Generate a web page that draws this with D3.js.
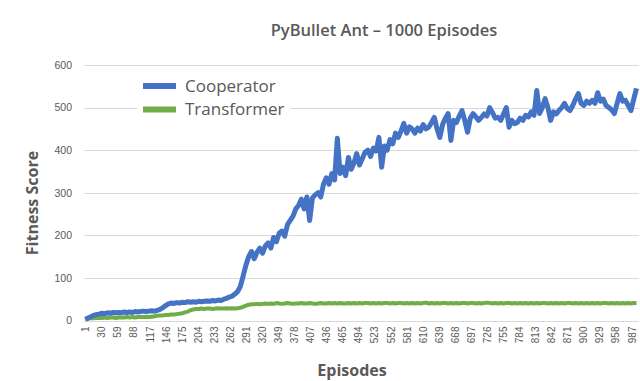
<html lang='en'>
<head>
<meta charset="utf-8">
<title>PyBullet Ant</title>
<script src="https://d3js.org/d3.v7.min.js"></script>
<style>
  body { margin: 0; background: #fff; }
  svg { font-family: "Open Sans", "Noto Sans", sans-serif; }
  .grid line { stroke: #d9d9d9; stroke-width: 1; shape-rendering: crispEdges; }
  .axis text { fill: #595959; font-size: 10.5px; }
  .axis--x text { font-size: 10px; }
  .line { fill: none; stroke-linejoin: round; }
</style>
</head>
<body>
<script>
// values sampled every 5 episodes (1, 6, 11, ... 996)
var cooperator = [
  3, 6, 9, 12, 14, 15, 17, 16, 18, 17,
  19, 18, 19, 18, 20, 19, 20, 19, 21, 20,
  21, 22, 21, 22, 23, 22, 24, 26, 30, 35,
  39, 41, 40, 42, 41, 43, 42, 44, 43, 44,
  43, 45, 44, 45, 46, 45, 47, 46, 48, 47,
  50, 52, 55, 57, 62, 68, 80, 105, 130, 150,
  162, 145, 160, 170, 158, 175, 182, 170, 195, 185,
  205, 210, 198, 225, 235, 245, 262, 270, 285, 262,
  290, 235, 288, 295, 300, 290, 320, 335, 320, 345,
  330, 428, 345, 360, 340, 383, 355, 370, 392, 365,
  380, 395, 400, 385, 405, 398, 430, 360, 410, 400,
  425, 415, 440, 430, 445, 463, 440, 455, 450, 440,
  452, 445, 460, 450, 454, 465, 477, 450, 430, 460,
  475, 486, 423, 470, 465, 480, 493, 470, 442, 475,
  486, 478, 470, 477, 485, 480, 500, 488, 475, 477,
  470, 485, 500, 454, 470, 462, 465, 475, 470, 482,
  478, 490, 482, 540, 486, 500, 521, 500, 470, 490,
  485, 493, 500, 510, 498, 493, 505, 520, 533, 510,
  505, 515, 510, 517, 510, 535, 515, 520, 505, 500,
  495, 486, 510, 533, 515, 517, 505, 493, 520, 545
];

var transformer = [
  2, 4, 5, 5, 6, 6, 6, 7, 6, 7,
  7, 6, 7, 7, 7, 8, 7, 8, 7, 8,
  8, 8, 9, 8, 9, 10, 11, 12, 12, 13,
  13, 14, 14, 15, 16, 17, 19, 21, 24, 26,
  27, 27, 28, 27, 28, 28, 27, 28, 29, 28,
  28, 29, 28, 29, 28, 29, 30, 32, 35, 37,
  38, 38, 39, 38, 39, 40, 39, 40, 39, 41,
  40, 39, 40, 41, 40, 39, 40, 40, 41, 40,
  40, 41, 40, 39, 40, 41, 40, 40, 41, 40,
  41, 40, 41, 40, 40, 41, 40, 41, 40, 41,
  40, 41, 41, 40, 41, 40, 41, 40, 41, 41,
  40, 41, 40, 41, 41, 40, 41, 40, 41, 40,
  41, 40, 41, 42, 40, 41, 40, 41, 40, 41,
  41, 40, 41, 40, 41, 40, 41, 41, 40, 41,
  41, 40, 41, 40, 41, 42, 41, 40, 41, 40,
  41, 40, 41, 41, 40, 41, 40, 41, 40, 41,
  40, 41, 40, 41, 40, 41, 41, 40, 41, 40,
  41, 40, 41, 40, 41, 41, 40, 41, 40, 41,
  40, 41, 40, 41, 40, 41, 40, 41, 41, 40,
  41, 40, 41, 40, 41, 40, 41, 40, 41, 41
];

var tickLabels = [1, 30, 59, 88, 117, 146, 175, 204, 233, 262, 291, 320, 349, 378,
  407, 436, 465, 494, 523, 552, 581, 610, 639, 668, 697, 726, 755, 784, 813, 842,
  871, 900, 929, 958, 987];

var yTicks = [0, 100, 200, 300, 400, 500, 600];

var width = 640, height = 381;
var plot = {left: 85, right: 639, top: 65, bottom: 320.5};

var svg = d3.select("body").append("svg")
    .attr("width", width)
    .attr("height", height);

var x = d3.scaleLinear()
    .domain([0.5, 1000.5])
    .range([plot.left, plot.right]);

var y = d3.scaleLinear()
    .domain([0, 600])
    .range([plot.bottom, plot.top]);

// gridlines
svg.append("g")
    .attr("class", "grid")
    .selectAll("line")
    .data(yTicks)
    .enter().append("line")
    .attr("x1", plot.left - 1)
    .attr("x2", plot.right)
    .attr("y1", function(d) { return Math.round(y(d)) + 0.5; })
    .attr("y2", function(d) { return Math.round(y(d)) + 0.5; });

// y axis labels
var yAxis = svg.append("g")
    .attr("class", "axis axis--y")
    .attr("transform", "translate(" + (plot.left - 2) + ",0)")
    .call(d3.axisLeft(y).tickValues(yTicks).tickSize(0).tickPadding(11));
yAxis.select(".domain").remove();

// x axis labels (rotated)
var xAxis = svg.append("g")
    .attr("class", "axis axis--x")
    .attr("transform", "translate(0," + plot.bottom + ")")
    .call(d3.axisBottom(x).tickValues(tickLabels).tickSize(0).tickFormat(d3.format("d")));
xAxis.select(".domain").remove();
xAxis.selectAll("text")
    .attr("transform", "rotate(-90)")
    .attr("text-anchor", "end")
    .attr("dy", "0.35em")
    .attr("x", -6)
    .attr("y", 0);

function pts(values) {
  return values.map(function(v, i) { return {episode: 1 + i * 5, value: v}; });
}

var line = d3.line()
    .x(function(d) { return x(d.episode); })
    .y(function(d) { return y(d.value); });

svg.append("path")
    .datum(pts(transformer))
    .attr("class", "line")
    .attr("stroke", "#70ad47")
    .attr("stroke-width", 4)
    .attr("d", line);

svg.append("path")
    .datum(pts(cooperator))
    .attr("class", "line")
    .attr("stroke", "#4472c4")
    .attr("stroke-width", 5)
    .attr("d", line);

// legend
var legend = svg.append("g").attr("transform", "translate(137,72)");
legend.append("rect")
    .attr("width", 153).attr("height", 50)
    .attr("fill", "#fff");
var series = [["Cooperator", "#4472c4"], ["Transformer", "#70ad47"]];
series.forEach(function(s, i) {
  var g = legend.append("g").attr("transform", "translate(0," + (14 + i * 23.5) + ")");
  g.append("rect")
    .attr("x", 6).attr("y", -3).attr("width", 33).attr("height", 6)
    .attr("fill", s[1]);
  g.append("text")
    .attr("x", 48).attr("dy", "0.35em")
    .attr("fill", "#595959")
    .attr("font-size", "17px")
    .text(s[0]);
});

// titles
svg.append("text")
    .attr("x", 384).attr("y", 36)
    .attr("text-anchor", "middle")
    .attr("fill", "#595959")
    .attr("font-size", "16.5px")
    .attr("font-weight", 600)
    .text("PyBullet Ant \u2013 1000 Episodes");

svg.append("text")
    .attr("transform", "translate(38,203) rotate(-90)")
    .attr("text-anchor", "middle")
    .attr("fill", "#595959")
    .attr("font-size", "16px")
    .attr("font-weight", "bold")
    .text("Fitness Score");

svg.append("text")
    .attr("x", 352).attr("y", 376)
    .attr("text-anchor", "middle")
    .attr("fill", "#595959")
    .attr("font-size", "16px")
    .attr("font-weight", "bold")
    .text("Episodes");
</script>
</body>
</html>
